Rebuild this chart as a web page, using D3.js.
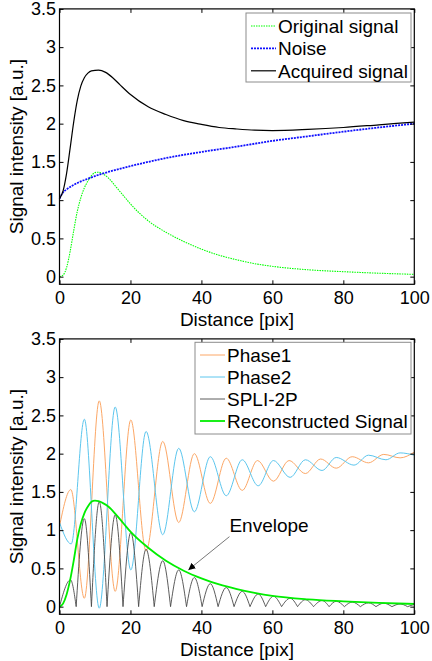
<!DOCTYPE html>
<html>
<head>
<meta charset="utf-8">
<script src="https://cdn.jsdelivr.net/npm/d3@7"></script>
<style>
  body { margin: 0; background: #fff; }
  svg { display: block; font-family: "Liberation Sans", Arial, sans-serif; }
  .tick text { font-size: 18px; fill: #000; }
</style>
</head>
<body>
<svg id="chart" width="432" height="661"></svg>
<script>
// Données : [distance, intensité]
const originalSignal = [[0,0],[1,0.02],[2,0.12],[3,0.33],[4,0.6],[5,0.85],[6,1.03],[7,1.16],[8,1.25],[9,1.32],[10,1.36],[11,1.365],[12,1.35],[14,1.28],[16,1.17],[18,1.06],[20,0.95],[25,0.73],[30,0.58],[35,0.46],[40,0.36],[45,0.28],[50,0.22],[55,0.17],[60,0.135],[70,0.09],[80,0.065],[90,0.045],[100,0.03]];
const noise = [[0,1.02],[1,1.1],[2,1.14],[4,1.2],[6,1.245],[8,1.28],[10,1.315],[12,1.345],[15,1.385],[20,1.445],[25,1.5],[30,1.55],[40,1.63],[50,1.7],[60,1.775],[70,1.835],[80,1.895],[90,1.95],[100,2.0]];
const acquiredSignal = [[0,1.02],[1,1.12],[2,1.35],[3,1.68],[4,2.02],[5,2.3],[6,2.49],[7,2.6],[8,2.66],[9,2.69],[11,2.7],[13,2.67],[15,2.6],[17,2.51],[20,2.38],[25,2.22],[30,2.12],[35,2.04],[40,1.99],[45,1.95],[50,1.93],[55,1.915],[60,1.91],[70,1.925],[80,1.95],[90,1.985],[100,2.02]];

// Extrema des deux phases
const phase1 = [[0,1.05],[3.2,1.53],[7,0.11],[11.2,2.69],[15.7,0.2],[20.1,2.44],[24.4,0.73],[29.1,2.16],[33.6,1.1],[38,2.0],[42.5,1.35],[47,1.94],[51.5,1.52],[55.8,1.91],[60.3,1.64],[64.7,1.91],[69.3,1.74],[73.6,1.93],[78,1.81],[82.5,1.96],[87.1,1.88],[91.4,1.99],[96,1.945],[100,2.02]];
const phase2 = [[0,1.1],[3.3,0.82],[7,2.45],[11.2,-0.02],[15.7,2.61],[20.1,0.48],[24.4,2.29],[29.1,0.94],[33.6,2.07],[38,1.24],[42.5,1.96],[47,1.45],[51.5,1.92],[56,1.58],[60.3,1.91],[65,1.69],[69.3,1.92],[74,1.78],[78,1.95],[83,1.85],[87.1,1.98],[92,1.92],[96,2.01],[100,1.98]];
// SPLI-2P : zéros et sommets des arches
const spli2p = [[0,0],[3.1,0.35],[4.7,0],[7,1.15],[9.0,0],[11.2,1.37],[13.4,0],[15.7,1.2],[17.9,0],[20.1,0.97],[22.3,0],[24.4,0.75],[26.7,0],[29.1,0.6],[31.3,0],[33.6,0.48],[35.8,0],[38,0.38],[40.2,0],[42.5,0.3],[44.7,0],[47,0.25],[49.2,0],[51.5,0.2],[53.7,0],[56,0.165],[58.1,0],[60.3,0.135],[62.6,0],[65,0.11],[67.1,0],[69.3,0.09],[71.6,0],[74,0.08],[76,0],[78,0.07],[80.3,0],[82.5,0.06],[84.8,0],[87.1,0.05],[89.2,0],[91.4,0.045],[93.7,0],[96,0.035],[98.1,0],[100,0.03]];
const reconstructed = [[0,0],[1,0.04],[2,0.16],[3,0.35],[4,0.6],[5,0.88],[6,1.08],[7,1.22],[8,1.31],[9,1.37],[10,1.385],[11,1.38],[12,1.36],[14,1.3],[16,1.2],[18,1.09],[20,0.98],[25,0.77],[30,0.6],[35,0.47],[40,0.37],[45,0.29],[50,0.23],[55,0.18],[60,0.14],[70,0.095],[80,0.07],[90,0.05],[100,0.035]];

const xTicks = [0, 20, 40, 60, 80, 100];
const yTicks = [0, 0.5, 1, 1.5, 2, 2.5, 3, 3.5];
const topLegend = ["Original signal", "Noise", "Acquired signal"];
const bottomLegend = ["Phase1", "Phase2", "SPLI-2P", "Reconstructed Signal"];
const annotation = { text: "Envelope", from: [47.9, 0.915], to: [36.3, 0.48] };

const svg = d3.select("#chart");

const x = d3.scaleLinear().domain([0, 100]).range([59.5, 414.3]);

svg.append("defs").append("marker")
  .attr("id", "arrow")
  .attr("viewBox", "0 0 10 10")
  .attr("refX", 10).attr("refY", 5)
  .attr("markerWidth", 7).attr("markerHeight", 7)
  .attr("markerUnits", "userSpaceOnUse")
  .attr("orient", "auto")
  .append("path")
  .attr("d", "M0,0L10,5L0,10z")
  .attr("fill", "#000");

function drawPanel(offset, series, legendLabels, legendBox) {
  const g = svg.append("g").attr("transform", `translate(0,${offset})`);
  const y = d3.scaleLinear().domain([-0.1, 3.5]).range([284.3, 8.9]);

  // Fond blanc et courbes
  g.append("rect")
    .attr("x", x(0)).attr("y", y(3.5))
    .attr("width", x(100) - x(0)).attr("height", y(-0.1) - y(3.5))
    .attr("fill", "#fff");

  const line = d3.line().x(d => x(d[0])).y(d => y(d[1])).curve(d3.curveMonotoneX);

  series.forEach(s => {
    const parts = s.lobes ? splitLobes(s.data) : [s.data];
    parts.forEach(p => {
      g.append("path")
        .attr("d", line(p))
        .attr("fill", "none")
        .attr("stroke", s.color)
        .attr("stroke-width", s.width)
        .attr("stroke-dasharray", s.dash || null);
    });
  });

  // Axes (ticks vers l'intérieur)
  const fmt = d => String(d);
  g.append("g").attr("transform", `translate(0,${y(-0.1)})`)
    .call(d3.axisBottom(x).tickValues(xTicks).tickFormat(fmt).tickSizeInner(-4).tickSizeOuter(0).tickPadding(7));
  g.append("g").attr("transform", `translate(0,${y(3.5)})`)
    .call(d3.axisTop(x).tickValues(xTicks).tickFormat("").tickSizeInner(-4).tickSizeOuter(0));
  g.append("g").attr("transform", `translate(${x(0)},0)`)
    .call(d3.axisLeft(y).tickValues(yTicks).tickFormat(fmt).tickSizeInner(-4).tickSizeOuter(0).tickPadding(3.5));
  g.append("g").attr("transform", `translate(${x(100)},0)`)
    .call(d3.axisRight(y).tickValues(yTicks).tickFormat("").tickSizeInner(-4).tickSizeOuter(0));
  g.selectAll(".domain").remove();
  g.selectAll(".tick line").attr("stroke", "#000");

  g.append("rect")
    .attr("x", x(0)).attr("y", y(3.5))
    .attr("width", x(100) - x(0)).attr("height", y(-0.1) - y(3.5))
    .attr("fill", "none").attr("stroke", "#000").attr("stroke-width", 1.2);

  // Labels des axes
  g.append("text")
    .attr("x", (x(0) + x(100)) / 2).attr("y", 326)
    .attr("text-anchor", "middle")
    .style("font-size", "19px")
    .text("Distance [pix]");
  g.append("text")
    .attr("transform", `translate(22.5,${(y(-0.1) + y(3.5)) / 2}) rotate(-90)`)
    .attr("text-anchor", "middle")
    .style("font-size", "19px")
    .text("Signal intensity [a.u.]");

  // Légende
  const lg = g.append("g");
  lg.append("rect")
    .attr("x", legendBox.x).attr("y", legendBox.y)
    .attr("width", legendBox.w).attr("height", legendBox.h)
    .attr("fill", "#fff").attr("stroke", "#8c8c8c").attr("stroke-width", 1);
  legendLabels.forEach((label, i) => {
    const s = series.find(d => d.name === label);
    const cy = legendBox.y + legendBox.first + i * legendBox.step;
    lg.append("line")
      .attr("x1", legendBox.x + 5).attr("x2", legendBox.x + 30)
      .attr("y1", cy).attr("y2", cy)
      .attr("stroke", s.color).attr("stroke-width", s.width)
      .attr("stroke-dasharray", s.dash || null);
    lg.append("text")
      .attr("x", legendBox.x + 32).attr("y", cy + 6.8)
      .style("font-size", "19px")
      .text(label);
  });

  return { g, y };
}

// Découpe en arches séparées aux zéros (pointes nettes)
function splitLobes(data) {
  const out = [];
  let cur = [data[0]];
  for (let i = 1; i < data.length; i++) {
    cur.push(data[i]);
    if (data[i][1] === 0) { out.push(cur); cur = [data[i]]; }
  }
  if (cur.length > 1) out.push(cur);
  return out;
}

// Graphique du haut
drawPanel(0, [
  { name: "Original signal", data: originalSignal, color: "#00ff00", width: 1.1, dash: "1.5,1" },
  { name: "Noise", data: noise, color: "#1010ff", width: 1.8, dash: "2,1" },
  { name: "Acquired signal", data: acquiredSignal, color: "#000", width: 1.2 }
], topLegend, { x: 246, y: 13, w: 165, h: 69, first: 13, step: 22.4 });

// Graphique du bas
const bottom = drawPanel(330, [
  { name: "Phase1", data: phase1, color: "#fca766", width: 1 },
  { name: "Phase2", data: phase2, color: "#5cc6ee", width: 1 },
  { name: "SPLI-2P", data: spli2p, color: "#4a4a4a", width: 0.9, lobes: true },
  { name: "Reconstructed Signal", data: reconstructed, color: "#00ee00", width: 1.8 }
], bottomLegend, { x: 195, y: 12.3, w: 216, h: 91.7, first: 12.7, step: 22 });

// Annotation "Envelope"
bottom.g.append("line")
  .attr("x1", x(annotation.from[0])).attr("y1", bottom.y(annotation.from[1]))
  .attr("x2", x(annotation.to[0])).attr("y2", bottom.y(annotation.to[1]))
  .attr("stroke", "#555").attr("stroke-width", 0.8)
  .attr("marker-end", "url(#arrow)");
bottom.g.append("text")
  .attr("x", x(annotation.from[0])).attr("y", bottom.y(0.98))
  .style("font-size", "19px")
  .text(annotation.text);
</script>
</body>
</html>
